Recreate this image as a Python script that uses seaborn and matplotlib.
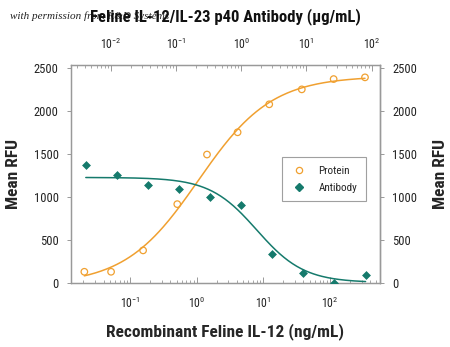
import numpy as np
import pandas as pd
import matplotlib
matplotlib.use("Agg")
import matplotlib.pyplot as plt
import seaborn as sns
from matplotlib.lines import Line2D
from matplotlib import font_manager

# ---- data ----
protein_conc = [0.0206, 0.0519, 0.157, 0.512, 1.43, 4.12, 12.3, 37.9, 114, 337]  # ng/mL
protein_rfu = [131, 131, 380, 919, 1497, 1756, 2082, 2256, 2376, 2396]
antibody_conc = [0.0041, 0.0123, 0.037, 0.111, 0.333, 1.0, 3.0, 9.0, 27, 81]  # ug/mL
antibody_rfu = [1372, 1256, 1140, 1101, 1000, 907, 341, 113, 3, 93]
# 4PL fit parameters: bottom, top, EC50, hill
protein_fit = [-20, 2410, 1.06, 0.79]
antibody_fit = [5, 1230, 1.73, 1.2]
y_ticks = [0, 500, 1000, 1500, 2000, 2500]

sns.set_theme(style="white")
available = {f.name for f in font_manager.fontManager.ttflist}
fam = [f for f in ['Roboto Condensed', 'Liberation Sans Narrow', 'Open Sans Condensed',
                   'Liberation Sans', 'DejaVu Sans'] if f in available]
condensed = fam[0] in ('Roboto Condensed', 'Liberation Sans Narrow', 'Open Sans Condensed')
plt.rcParams['font.family'] = fam
plt.rcParams['mathtext.default'] = 'regular'

k = 1.0 if condensed else 0.87  # shrink wide fonts to approximate condensed widths

ORANGE = "#F0A030"
TEAL = "#157A6C"
SPINE = "#999999"

fig = plt.figure(figsize=(4.5, 3.47), dpi=100)
ax = fig.add_axes([0.158, 0.1844, 0.686, 0.6283])
ax_top = ax.twiny()

def fourpl(x, b, t, c, h):
    return b + (t - b) / (1 + (x / c) ** (-h))

def fourpl_dec(x, b, t, c, h):
    return b + (t - b) / (1 + (x / c) ** h)

# protein curve (bottom axis)
xp = np.logspace(np.log10(protein_conc[0]), np.log10(protein_conc[-1]), 200)
dfp = pd.DataFrame({"x": xp, "y": fourpl(xp, *protein_fit)})
sns.lineplot(data=dfp, x="x", y="y", ax=ax, color=ORANGE, lw=1.1)
sns.scatterplot(x=protein_conc, y=protein_rfu, ax=ax, marker="o", s=22,
                facecolor="none", edgecolor=ORANGE, linewidth=0.9, zorder=3)

# antibody curve (top axis)
xa = np.logspace(np.log10(antibody_conc[0]), np.log10(antibody_conc[-1]), 200)
dfa = pd.DataFrame({"x": xa, "y": fourpl_dec(xa, *antibody_fit)})
sns.lineplot(data=dfa, x="x", y="y", ax=ax_top, color=TEAL, lw=1.1)
sns.scatterplot(x=antibody_conc, y=antibody_rfu, ax=ax_top, marker="D", s=16,
                color=TEAL, edgecolor=TEAL, linewidth=0.5, zorder=3)

ax.set_xscale("log")
ax_top.set_xscale("log")
ax.set_xlim(10 ** -1.885, 10 ** 2.75)
ax_top.set_xlim(10 ** -2.613, 10 ** 2.127)
ax.set_ylim(0, 2540)
ax.set_yticks(y_ticks)
ax.set_yticklabels([str(v) for v in y_ticks])

sec = ax.secondary_yaxis('right')
sec.set_yticks(y_ticks)
sec.set_yticklabels([str(v) for v in y_ticks])

for a in (ax, ax_top):
    for s in a.spines.values():
        s.set_color(SPINE)
        s.set_linewidth(0.9)
for s in sec.spines.values():
    s.set_color(SPINE)
    s.set_linewidth(0.9)

tl = 8.5 * k
ax.tick_params(axis='x', which='major', direction='in', length=4, width=0.7,
               color=SPINE, labelsize=tl, pad=9, labelcolor="#222222")
ax.tick_params(axis='x', which='minor', direction='in', length=2.5, width=0.6, color=SPINE)
ax_top.tick_params(axis='x', which='major', direction='in', length=4, width=0.7,
                   color=SPINE, labelsize=tl, pad=9, labelcolor="#222222")
ax_top.tick_params(axis='x', which='minor', direction='in', length=2.5, width=0.6, color=SPINE)
ax.tick_params(axis='y', direction='out', length=3, width=0.7, color=SPINE,
               labelsize=tl + 0.5, pad=6, labelcolor="#222222", left=True)
sec.tick_params(axis='y', direction='out', length=3, width=0.7, color=SPINE,
                labelsize=tl + 0.5, pad=6, labelcolor="#222222")

lab = 12.5 * k
ax.set_xlabel("Recombinant Feline IL-12 (ng/mL)", fontsize=lab, fontweight='bold', labelpad=9)
ax_top.set_xlabel("")
ax.set_ylabel("Mean RFU", fontsize=lab, fontweight='bold', labelpad=9)
sec.set_ylabel("Mean RFU", fontsize=lab, fontweight='bold', labelpad=11)

fig.text(0.022, 0.953, "with permission from R&D Systems", fontsize=8,
         style='italic', family=['Liberation Serif', 'DejaVu Serif'], color="#222222",
         ha='left', va='center', zorder=1)
fig.text(0.5, 0.953, "Feline IL-12/IL-23 p40 Antibody (\u03bcg/mL)", fontsize=12 * k,
         fontweight='bold', ha='center', va='center', color="#111111", zorder=2)

handles = [
    Line2D([], [], linestyle='none', marker='o', markersize=4.5, markerfacecolor='none',
           markeredgecolor=ORANGE, markeredgewidth=0.9, label="Protein"),
    Line2D([], [], linestyle='none', marker='D', markersize=3.8, color=TEAL, label="Antibody"),
]
leg = ax.legend(handles=handles, loc='upper left', bbox_to_anchor=(0.683, 0.578),
                prop={'size': 8 * k, 'weight': 'bold' if not condensed else 'normal'},
                frameon=True, fancybox=False, borderpad=0.8,
                handletextpad=1.0, labelspacing=0.6, borderaxespad=0, handlelength=1.5)
leg.get_frame().set_edgecolor("#888888")
leg.get_frame().set_linewidth(0.8)

fig.savefig("out.png", dpi=100)
